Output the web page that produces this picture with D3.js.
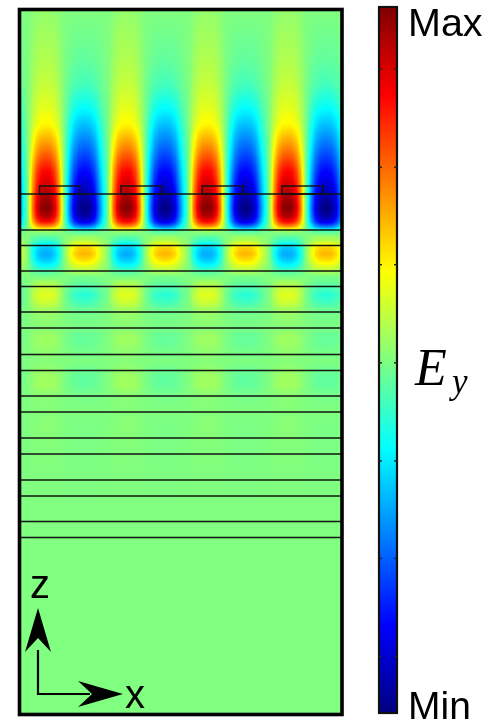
<!DOCTYPE html>
<html>
<head>
<meta charset="utf-8">
<script src="https://d3js.org/d3.v7.min.js"></script>
<style>
html,body{margin:0;padding:0;background:#fff;overflow:hidden}
#wrap{position:relative;width:494px;height:721px;filter:blur(0.5px)}
canvas,svg{position:absolute;left:0;top:0}
text{fill:#000}
</style>
</head>
<body>
<div id="wrap"></div>
<script>
// depth below the top of the domain, in units where the whole box spans 0..7.03
const depthSamples = [0,0.24,0.49,0.74,0.97,1.14,1.37,1.60,1.75,1.87,1.97,2.05,2.11,2.16,2.20,2.25,2.30,2.36,2.43,2.49,2.55,2.61,2.67,2.69,2.76,2.84,2.92,2.99,3.07,3.17,3.24,3.32,3.41,3.51,3.64,3.74,3.84,3.99,4.14,4.34,4.59,4.89,7.03];
// normalised field (0 = Min, 1 = Max) along a column through a positive lobe
const redLobe = [.52,.535,.55,.57,.60,.635,.75,.875,.93,.97,1,.96,.87,.72,.53,.47,.42,.32,.29,.32,.38,.46,.50,.52,.57,.60,.575,.53,.52,.505,.53,.53,.515,.505,.53,.535,.51,.505,.51,.505,.503,.50,.50];
// same, along a column through a negative lobe
const blueLobe = [.50,.485,.47,.44,.375,.31,.22,.125,.07,.03,0,.03,.10,.25,.44,.52,.56,.67,.70,.66,.60,.54,.48,.485,.45,.41,.44,.48,.49,.495,.475,.475,.49,.50,.47,.47,.49,.50,.495,.495,.497,.50,.50];
// lateral lobe shape across one period
const periodPhase = [0,.056,.112,.168,.224,.286,.348,.41,.478,.547,.609,.677,.776,.832,.888,.944,1];
const periodShape = [1,.97,.82,.5,0,-.45,-.8,-.96,-1,-.96,-.8,-.45,0,.5,.82,.97,1];
// stack interfaces (depth)
const layerLines = [1.83,2.19,2.345,2.60,2.755,3.01,3.17,3.435,3.595,3.85,4.01,4.27,4.43,4.69,4.85,5.105,5.265];
// grating ridges (position in periods)
const ridgeStart = [-.08,.93,1.94,2.93];
const ridgeEnd = [.42,1.44,2.45,3.44];
const ridgeDepth = [1.75,1.83];
// colour bar
const cbTicks = [.08,.219,.357,.496,.635,.773,.912];
const jetStops = [0,.125,.375,.625,.875,1];
const jetColors = ["#000080","#0000ff","#00ffff","#ffff00","#ff0000","#800000"];

const W = 494, H = 721;
const box = {l:19.5,r:342,t:9.5,b:714.5};
const x = d3.scaleLinear().domain([0,4]).range([46,368]);
const z = d3.scaleLinear().domain([0,7.03]).range([11,714]);
const jet = d3.scaleLinear().domain(jetStops).range(jetColors).clamp(true);
const redAt = d3.scaleLinear().domain(depthSamples).range(redLobe);
const blueAt = d3.scaleLinear().domain(depthSamples).range(blueLobe);
const shapeAt = d3.scaleLinear().domain(periodPhase).range(periodShape);
const cb = d3.scaleLinear().domain([0,1]).range([713,7]);

const wrap = d3.select("#wrap");
const canvas = wrap.append("canvas").attr("width",W).attr("height",H).node();
const ctx = canvas.getContext("2d");

for (let py = Math.floor(box.t); py < box.b; py++) {
  const d = z.invert(py + .5), R = redAt(d), B = blueAt(d);
  for (let px = Math.floor(box.l); px < box.r; px++) {
    const p = x.invert(px + .5), ph = p - Math.floor(p), w = shapeAt(ph);
    const v = w >= 0 ? .5 + w * (R - .5) : .5 - w * (B - .5);
    ctx.fillStyle = jet(v);
    ctx.fillRect(px, py, 1, 1);
  }
}
for (let py = cb.range()[1]; py < cb.range()[0]; py++) {
  ctx.fillStyle = jet(cb.invert(py + .5));
  ctx.fillRect(379, py, 18, 1);
}

const svg = wrap.append("svg").attr("width",W).attr("height",H);

svg.append("g").selectAll("line").data(layerLines).join("line")
  .attr("x1",box.l).attr("x2",box.r)
  .attr("y1",d=>z(d)).attr("y2",d=>z(d))
  .attr("stroke","#101410").attr("stroke-width",1.6);

svg.append("g").selectAll("rect").data(ridgeStart).join("rect")
  .attr("x",d=>x(d))
  .attr("width",(d,i)=>x(ridgeEnd[i])-x(d))
  .attr("y",z(ridgeDepth[0]))
  .attr("height",z(ridgeDepth[1])-z(ridgeDepth[0]))
  .attr("fill","none").attr("stroke","#111").attr("stroke-width",1.4);

svg.append("rect")
  .attr("x",box.l).attr("y",box.t)
  .attr("width",box.r-box.l).attr("height",box.b-box.t)
  .attr("fill","none").attr("stroke","#000").attr("stroke-width",3.6);

// colour bar frame and ticks
svg.append("rect").attr("x",379).attr("y",7).attr("width",18).attr("height",706)
  .attr("fill","none").attr("stroke","#111").attr("stroke-width",2.2);
const tickG = svg.append("g");
tickG.selectAll("line.a").data(cbTicks).join("line").attr("class","a")
  .attr("x1",379).attr("x2",382).attr("y1",d=>cb(d)).attr("y2",d=>cb(d))
  .attr("stroke","#222").attr("stroke-width",1.4);
tickG.selectAll("line.b").data(cbTicks).join("line").attr("class","b")
  .attr("x1",394).attr("x2",397).attr("y1",d=>cb(d)).attr("y2",d=>cb(d))
  .attr("stroke","#222").attr("stroke-width",1.4);

const sans = "'Liberation Sans',Arial,sans-serif", serif = "'Liberation Serif','Times New Roman',serif";
svg.append("text").attr("x",408).attr("y",36).attr("font-family",sans).attr("font-size",39.5).text("Max");
svg.append("text").attr("x",408).attr("y",719).attr("font-family",sans).attr("font-size",39).text("Min");
svg.append("text").attr("x",415).attr("y",385).attr("font-family",serif).attr("font-style","italic").attr("font-size",52).text("E");
svg.append("text").attr("x",452).attr("y",393).attr("font-family",serif).attr("font-style","italic").attr("font-size",35).text("y");

// coordinate triad
svg.append("path").attr("d","M38,650V694H90").attr("fill","none").attr("stroke","#000").attr("stroke-width",2.2);
svg.append("path").attr("d","M38,608L51,652L38,638L25,652Z").attr("fill","#000");
svg.append("path").attr("d","M123,694L78,681L92,694L78,707Z").attr("fill","#000");
svg.append("text").attr("x",30).attr("y",598).attr("font-family",sans).attr("font-size",40).text("z");
svg.append("text").attr("x",125).attr("y",708).attr("font-family",sans).attr("font-size",40).text("x");
</script>
</body>
</html>
